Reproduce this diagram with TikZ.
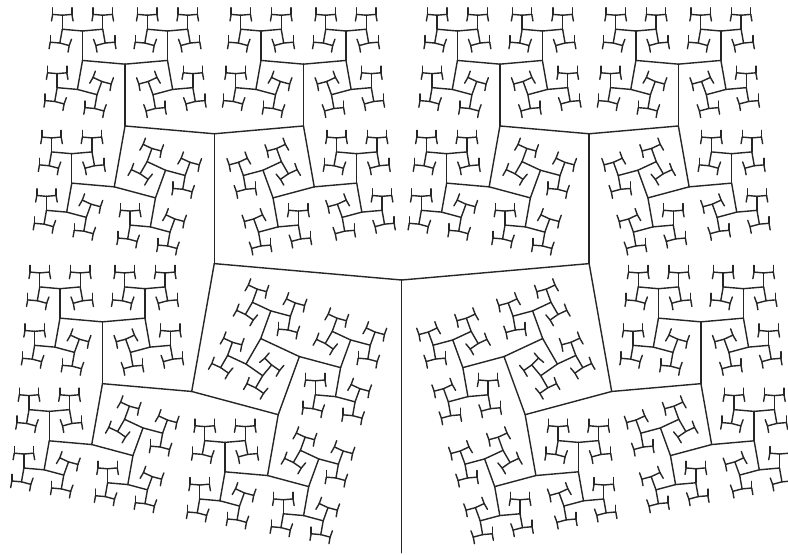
\documentclass[tikz,border=0pt]{standalone}
\usepackage{tikz}
\tikzset{branchline/.style={line width=0.7pt, draw=black!85, line cap=round}}
\newcommand\tbranch[5]{%
  \begingroup
  \pgfmathsetmacro\tbX{#1+#4*cos(#3)}%
  \pgfmathsetmacro\tbY{#2+#4*sin(#3)}%
  \draw[branchline] (#1,#2) -- (\tbX,\tbY);
  \ifnum#5>0
    \pgfmathsetmacro\tbL{#4*0.69}%
    \pgfmathsetmacro\tbA{#3+85}%
    \pgfmathsetmacro\tbB{#3-85}%
    \pgfmathtruncatemacro\tbD{#5-1}%
    \edef\tbNext{\noexpand\tbranch{\tbX}{\tbY}{\tbA}{\tbL}{\tbD}\noexpand\tbranch{\tbX}{\tbY}{\tbB}{\tbL}{\tbD}}%
    \tbNext
  \fi
  \endgroup}
\begin{document}
\begin{tikzpicture}[x=0.5pt,y=-0.5pt]
\fill[white] (0,0) rectangle (788,554);
\useasboundingbox (0,0) rectangle (788,554);
\tbranch{401.7}{552.7}{-90}{272.7}{10}
\end{tikzpicture}
\end{document}
